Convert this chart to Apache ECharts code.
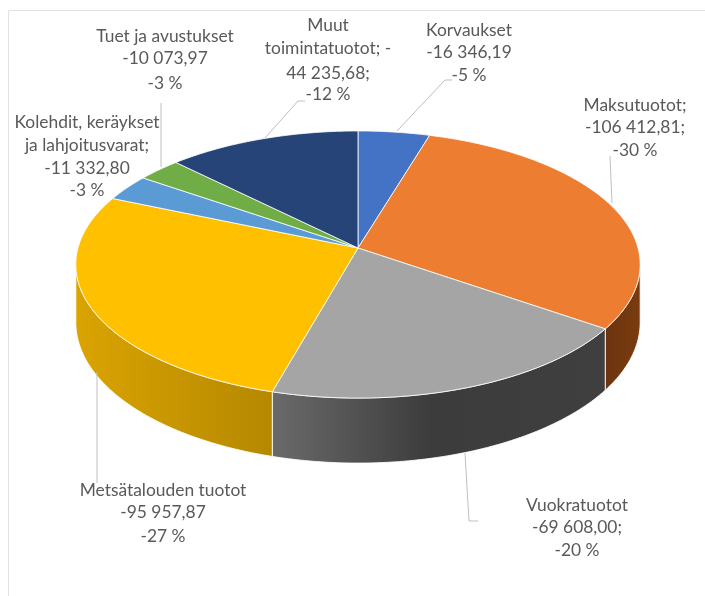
<!DOCTYPE html>
<html><head><meta charset="utf-8">
<style>html,body{margin:0;padding:0;background:#fff}#c{width:705px;height:596px}</style>
<script src="https://cdn.jsdelivr.net/npm/echarts@6/dist/echarts.min.js"></script>
</head><body><div id="c"></div>
<script>
const categories = ['Korvaukset','Maksutuotot','Vuokratuotot','Metsätalouden tuotot','Kolehdit, keräykset ja lahjoitusvarat','Tuet ja avustukset','Muut toimintatuotot'];
const values = [16346.19,106412.81,69608.00,95957.87,11332.80,10073.97,44235.68];
const labelLines = [
  ['Korvaukset','-16 346,19','-5 %'],
  ['Maksutuotot;','-106 412,81;','-30 %'],
  ['Vuokratuotot','-69 608,00;','-20 %'],
  ['Metsätalouden tuotot','-95 957,87','-27 %'],
  ['Kolehdit, keräykset','ja lahjoitusvarat;','-11 332,80','-3 %'],
  ['Tuet ja avustukset','-10 073,97','-3 %'],
  ['Muut','toimintatuotot; -','44 235,68;','-12 %']
];
const colors = ['#4472C4','#ED7D31','#A5A5A5','#FFC000','#5B9BD5','#70AD47','#264478'];

// layout, separate from the data
const labelX = [469,635,577,163,87,165,328];
const labelY = [[30,52,75],[105,127,150],[505,527,550],[490,512,536],[122,145,168,190],[36,58,83],[25,48,73,94]];
const leaders = [
  [[452,80],[445,80],[397,131]],
  [[610,156],[612,203]],
  [[465,453],[469,521],[478,521]],
  [[97,372],[97,483]],
  null,
  [[161,103],[161,167]],
  [[305,101],[298,101],[265,138]]
];
const sideGrad = [
  null,
  [[605,'#6b3410'],[640,'#7a3c0e']],
  [[273,'#6a6a6a'],[430,'#3c3c3c'],[606,'#3f3f3f']],
  [[80,'#d9a300'],[273,'#b58800']],
  null,null,null
];
const CX=358, CY=248, R=280, H=131.5, P=0.1236, DEPTH=57;
const SIDE_A=97, SIDE_B=263;
const total = values.reduce((a,b)=>a+b,0);

function pt(deg, drop){
  const t=deg*Math.PI/180, yn=-Math.cos(t), s=1/(1-P*yn);
  return [CX+R*Math.sin(t)*s, CY+H*yn*s+(drop?DEPTH*s:0)];
}
function arc(a,b,drop){
  const out=[], n=Math.max(2,Math.ceil(Math.abs(b-a)));
  for(let i=0;i<=n;i++) out.push(pt(a+(b-a)*i/n,drop));
  return out;
}
function renderItem(params, api){
  const i=params.dataIndex;
  let before=0; for(let k=0;k<i;k++) before+=values[k];
  const a=before/total*360, b=(before+api.value(0))/total*360;
  const children=[];
  const sa=Math.max(a,SIDE_A), sb=Math.min(b,SIDE_B);
  if(sb>sa && sideGrad[i]){
    const g=sideGrad[i], x0=g[0][0], x1=g[g.length-1][0];
    children.push({type:'polygon',
      shape:{points:arc(sa,sb,false).concat(arc(sb,sa,true))},
      style:{fill:{type:'linear',x:x0,y:0,x2:x1,y2:0,global:true,
        colorStops:g.map(s=>({offset:(s[0]-x0)/(x1-x0),color:s[1]}))},
        stroke:'rgba(255,255,255,0.85)',lineWidth:1}});
  }
  children.push({type:'polygon',
    shape:{points:[[CX,CY]].concat(arc(a,b,false))},
    style:{fill:colors[i],stroke:'rgba(255,255,255,0.8)',lineWidth:1}});
  if(leaders[i]) children.push({type:'polyline',shape:{points:leaders[i]},
    style:{fill:null,stroke:'#bfbfbf',lineWidth:1}});
  labelLines[i].forEach((t,k)=>children.push({type:'text',
    style:{text:t,x:labelX[i],y:labelY[i][k],align:'center',verticalAlign:'middle',
      fill:'#595959',font:'17.4px Lato'}}));
  return {type:'group',children};
}
const chart=echarts.init(document.getElementById('c'),null,{renderer:'canvas'});
chart.setOption({
  animation:false,
  backgroundColor:'#fff',
  graphic:[{type:'polyline',shape:{points:[[8.5,596],[8.5,10.5],[705,10.5]]},
    style:{fill:null,stroke:'#e2e2e2',lineWidth:1},silent:true}],
  series:[{type:'custom',coordinateSystem:'none',renderItem,
    data:values.map((v,i)=>({name:categories[i],value:[v]}))}]
});
</script></body></html>
